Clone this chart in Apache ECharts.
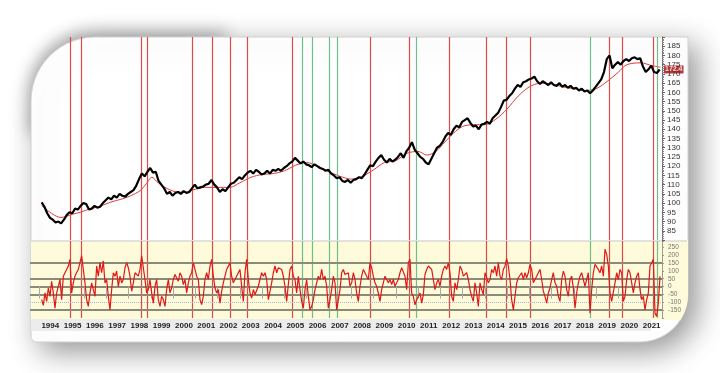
<!DOCTYPE html>
<html><head><meta charset="utf-8">
<script src="https://cdn.jsdelivr.net/npm/echarts@6/dist/echarts.min.js"></script>
<style>html,body{margin:0;padding:0;background:#fff}#c{width:720px;height:373px}</style>
</head><body><div id="c"></div>
<script>
// ---- data ----
const years = [1994,1995,1996,1997,1998,1999,2000,2001,2002,2003,2004,2005,2006,2007,2008,2009,2010,2011,2012,2013,2014,2015,2016,2017,2018,2019,2020,2021];
const priceTicks = [85,90,95,100,105,110,115,120,125,130,135,140,145,150,155,160,165,170,175,180,185];
const oscTicks = [-150,-100,-50,0,50,100,150,200,250];
const lastPrice = 172.4;

// price: readings every 1.5 months from 1994.1
const priceStart = 1994.1, priceStep = 0.125;
const priceV = [
 100.4,98,94.5,92,91,89.5,90,89,
 91,93.5,95,94.5,97,96.5,98.5,100,
 99.5,96.5,97,98.5,97.5,98,100,101.5,
 103,102,104,103,105,104,103.5,105,
 106,107,109.5,113,116,114.5,117,119,
 116.5,117,112,110,108,105,106,104,
 105.5,106,105,106.5,105.5,106,108,110,
 108,108.5,109,110,110.5,112.5,110,108.5,
 106,107.5,106.5,108.5,110.5,111,112.5,114,
 113,115,116.5,117.5,116,118,117,115.5,
 116,117.5,116,118,117.5,118.5,117.5,119,
 120,121.5,122.5,124.5,123,121.5,122.5,121,
 120.5,119.5,121,120,119,118.5,117.5,118,
 116,115,113.5,114,112,111.5,112.5,111,
 112.5,113,114,113.5,115.5,118,120.5,120,
 122.5,124.5,126,123.5,122,124,122.5,123.5,
 125,127,124.5,128,130,133,129,127,
 125,124,122,121,124,127,130,131,
 133,136,138,137,140,142,141,144,
 145,146,143.5,141.5,142,140,142.5,143,
 144,143,146,147.5,149,152,155.5,156,
 158,159.5,162,164,163,165.5,166,167,
 167.5,168.5,166,164.5,166,165,164,165.5,
 164,163.5,165,163,164,162.5,163.5,162,
 162.5,161,162,160.5,161,159.5,161,163,
 165,167,171,178,180,173,175,176.5,
 175,177,178,177,178.5,179,178,178.5,
 174,171,172.5,174.5,171,170.5,172.4];

const maT = [1994.10,1994.60,1994.96,1995.50,1995.82,1996.30,1996.57,1997.20,1997.75,1998.10,1998.52,1998.80,1999.05,1999.33,1999.64,2000.00,2000.52,2001.00,2001.41,2002.00,2002.55,2003.0,2003.5,2004.0,2004.5,2005.0,2005.5,2006.0,2006.5,2007.0,2007.5,2008.0,2008.5,2009.0,2009.5,2010.0,2010.5,2011.0,2011.4,2011.8,2012.2,2012.6,2013.0,2013.5,2014.0,2014.5,2015.0,2015.5,2016.0,2016.5,2017.0,2017.5,2018.0,2018.5,2019.0,2019.5,2020.0,2020.3,2020.6,2021.0,2021.5,2021.88];
const maV = [98.6,94,92.2,94,95,97,97.7,100.5,102.4,104,106.7,110.5,114,111,108.5,106.5,105.8,107.5,108.5,108.5,108.5,111,114,115.5,116,117.5,120.5,122,120,117,114.5,113,114.5,118,122,123,127,128,126,128,133,138,141.5,142.5,142.5,145.5,151,158,163,165,164.5,163,162,161,162,166,171,174.5,175.7,176,174.5,173.6];

// oscillator: evenly spaced readings
const oscStart = 1994.100, oscStep = 0.07484;
const oscV = [-83,-120,-40,-94,-9,-62,34,-40,-137,-40,0,45,-83,66,88,109,130,173,-40,23,66,90,109,152,195,109,23,-83,-126,-40,23,-19,-62,130,66,152,88,163,23,45,-62,-148,-19,88,66,98,0,66,23,45,120,152,120,66,-30,23,88,98,66,109,195,120,45,-40,-19,45,-40,-105,0,45,-83,-126,-62,-83,-126,-19,45,-40,-9,45,77,66,34,88,66,13,45,-40,23,66,88,152,109,66,45,-83,-115,-62,45,88,45,130,173,66,-9,-40,-19,-105,-30,23,66,109,130,152,
66,24,45,45,88,109,2,-94,88,173,45,-41,-73,-19,-51,-62,2,45,88,66,88,45,-83,-73,24,88,131,88,120,131,109,66,2,-94,13,109,131,66,45,-41,66,-19,-94,-137,-19,45,-62,-148,-126,-83,-19,24,66,45,109,45,66,2,-137,-83,-19,66,24,-148,-158,-19,88,109,77,66,88,2,24,88,45,-41,-94,2,66,109,88,66,45,152,120,66,24,2,-41,-94,-19,24,66,45,24,45,13,45,2,24,45,88,120,131,66,-19,152,173,-41,-62,-116,-83,-73,-41,-105,-51,77,109,131,141,109,45,-19,24,45,2,66,109,131,109,152,88,-62,-94,24,-19,45,131,109,66,77,88,45,-19,-62,-94,24,-41,-126,24,
-19,-51,88,98,24,45,109,88,131,66,152,66,45,109,131,178,131,45,-83,-148,-62,24,56,66,88,45,88,56,88,141,109,24,45,66,88,109,45,-30,-62,-105,-41,-9,45,88,24,2,-62,-94,45,98,66,-19,-62,45,66,-9,-137,-41,24,66,88,45,2,45,88,-169,-19,88,141,131,109,88,131,66,238,205,131,-41,-94,-83,24,88,45,109,88,-94,-62,45,109,88,24,-41,24,66,88,-19,-83,-62,-148,-83,-41,131,152,173,-169,-190,-105,66];

const redEvents = [1995.37,1995.90,1998.56,1998.84,2000.88,2001.76,2002.56,2003.31,2005.37,2008.84,2010.59,2012.39,2014.05,2014.95,2016.06,2019.59,2020.17,2021.56];
const greenEvents = [2005.78,2006.23,2007.00,2007.38,2010.90,2018.72,2021.75];
const hLevelsDark = [150,50,0,-50,-150];
const hLevelsDotted = [-100];

// ---- build ----
const xMin = 1993.577, xMax = 2021.955;
const priceData = priceV.map((v,i)=>[priceStart+i*priceStep, v]);
const maData = maT.map((t,i)=>[t,maV[i]]);
const oscData = oscV.map((v,i)=>[oscStart+i*oscStep, v]);

function arcPts(cx,cy,r,a0,a1){const p=[];for(let k=0;k<=14;k++){const a=a0+(a1-a0)*k/14;p.push([cx+r*Math.cos(a),cy+r*Math.sin(a)]);}return p;}
const cardPts = [].concat(
  arcPts(95,101,64,Math.PI,1.5*Math.PI),
  [[688,37]],
  arcPts(640,294,48,0,0.5*Math.PI),
  arcPts(37,336,6,0.5*Math.PI,Math.PI)
);
const cornerPts = [].concat(arcPts(95,101,64,Math.PI,1.5*Math.PI),[[230,37],[230,45],[40,140],[31,140]]);
const yellowPts = [[31,240],[688,240]].concat(arcPts(640,294,48,0,Math.asin(26/48)),[[31,320]]);

function evSeries(xi, yi, vals, color){
  return {type:'line', xAxisIndex:xi, yAxisIndex:yi, data:[], symbol:'none', z:3,
    markLine:{silent:true, symbol:'none', label:{show:false},
      lineStyle:{color:color, width:1.2, type:'solid', opacity:1}, data:vals.map(v=>({xAxis:v}))}};
}
function hSeries(vals, style){
  return {type:'line', xAxisIndex:1, yAxisIndex:1, data:[], symbol:'none', z:2,
    markLine:{silent:true, symbol:'none', label:{show:false}, lineStyle:style, data:vals.map(v=>({yAxis:v}))}};
}

const FONT = 'Liberation Sans';
const chart = echarts.init(document.getElementById('c'), null, {renderer:'canvas'});
chart.setOption({
  animation:false,
  backgroundColor:'#ffffff',
  graphic:[
    {type:'polygon', z:0, z2:0, shape:{points:cornerPts},
     style:{fill:'#ffffff', shadowBlur:16, shadowColor:'rgba(0,0,0,0.28)', shadowOffsetX:-2, shadowOffsetY:-6}},
    {type:'polygon', z:0, z2:1, shape:{points:cardPts},
     style:{fill:'#ffffff', stroke:'#d0d0d0', lineWidth:1, shadowBlur:30, shadowColor:'rgba(0,0,0,0.42)', shadowOffsetX:9, shadowOffsetY:9}},
    {type:'polygon', z:0, z2:2, shape:{points:yellowPts}, style:{fill:'#fdfbd9'}},
    {type:'rect', z:0, z2:3, shape:{x:31,y:240,width:656,height:2}, style:{fill:'#e2e2dc'}},
    {type:'rect', z:0, z2:3, shape:{x:31,y:319,width:620,height:12}, style:{fill:'#ececec'}}
  ],
  grid:[
    {left:30, top:37, width:632, height:203},
    {left:30, top:241, width:632, height:77}
  ],
  xAxis:[
    {gridIndex:0, type:'value', min:xMin, max:xMax, show:false, splitLine:{show:false}},
    {gridIndex:1, type:'value', min:xMin, max:xMax, z:5,
     axisLine:{show:false}, splitLine:{show:false},
     axisTick:{show:true, customValues:years, length:12, lineStyle:{color:'#a8a8a8'}},
     axisLabel:{customValues:years, formatter:v=>String(Math.round(v)), align:'left', margin:4, padding:[0,0,0,2],
       fontFamily:FONT, fontWeight:'bold', fontSize:8, color:'#222'}}
  ],
  yAxis:[
    {gridIndex:0, type:'value', position:'right', min:80, max:190, interval:5, z:5,
     splitLine:{show:false},
     axisLine:{show:true, lineStyle:{color:'#666'}},
     axisTick:{show:true, length:3, lineStyle:{color:'#666'}},
     minorTick:{show:true, splitNumber:5, length:2, lineStyle:{color:'#888'}},
     axisLabel:{margin:5, fontFamily:FONT, fontSize:8, color:'#333',
       formatter:v=>priceTicks.indexOf(v)>=0?String(v):''}},
    {gridIndex:1, type:'value', position:'right', min:-200, max:290, interval:50, z:5,
     splitLine:{show:false},
     axisLine:{show:true, lineStyle:{color:'#999'}},
     axisTick:{show:true, length:2, lineStyle:{color:'#999'}},
     axisLabel:{margin:6, fontFamily:FONT, fontSize:6.5, color:'#777',
       formatter:v=>oscTicks.indexOf(v)>=0?String(v):''}}
  ],
  series:[
    evSeries(0,0,redEvents,'#dc4a4a'),
    evSeries(0,0,greenEvents,'#6fbf8e'),
    evSeries(1,1,redEvents,'#dc4a4a'),
    evSeries(1,1,greenEvents,'#6fbf8e'),
    hSeries(hLevelsDark,{color:'#8b8a7a', width:1.8, type:'solid'}),
    hSeries(hLevelsDotted,{color:'#a8b8d0', width:1, type:'dotted'}),
    {type:'line', xAxisIndex:0, yAxisIndex:0, data:maData, symbol:'none', z:4, smooth:0.3,
     lineStyle:{color:'#e03a3a', width:1}},
    {type:'line', xAxisIndex:0, yAxisIndex:0, data:priceData, symbol:'none', z:5,
     lineStyle:{color:'#000', width:2.2}},
    {type:'line', xAxisIndex:1, yAxisIndex:1, data:oscData, symbol:'none', z:5,
     lineStyle:{color:'#e01818', width:1.2}},
    {type:'scatter', xAxisIndex:0, yAxisIndex:0, data:[[xMax,lastPrice]], symbolSize:0, z:6,
     label:{show:true, position:'right', distance:2, formatter:p=>String(p.value[1]),
       backgroundColor:'#9a0c0c', color:'#fff', fontFamily:FONT, fontWeight:'bold', fontSize:7, padding:[1,1,0,1]}}
  ]
});
</script></body></html>
